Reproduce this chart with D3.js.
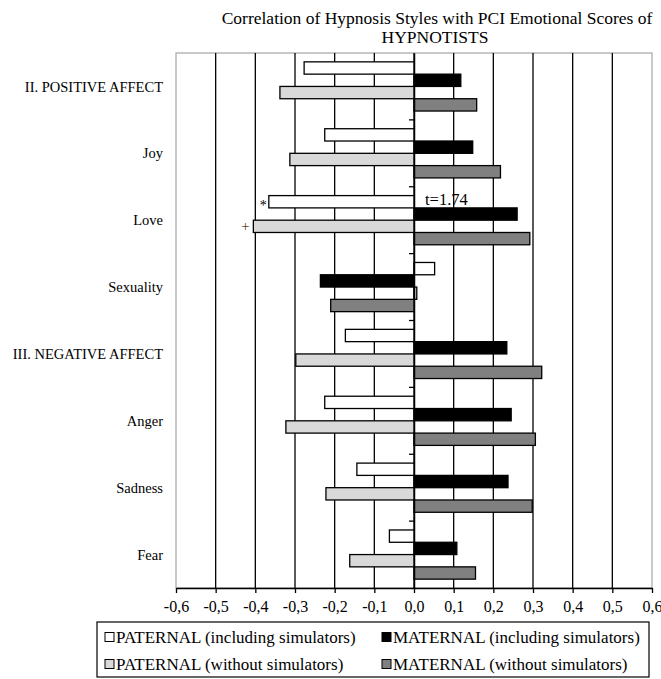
<!DOCTYPE html>
<html>
<head>
<meta charset="utf-8">
<script src="https://cdn.jsdelivr.net/npm/d3@7"></script>
<style>
  body { margin: 0; background: #fff; }
  text { font-family: "Liberation Serif", "Times New Roman", serif; }
</style>
</head>
<body>
<svg id="chart"></svg>
<script>
// categories (top to bottom)
const categories = ['II. POSITIVE AFFECT', 'Joy', 'Love', 'Sexuality',
  'III. NEGATIVE AFFECT', 'Anger', 'Sadness', 'Fear'];

const seriesNames = [
  'PATERNAL (including simulators)',
  'MATERNAL (including simulators)',
  'PATERNAL (without simulators)',
  'MATERNAL (without simulators)'
];

// correlation values
const paternalIncl = [-0.277, -0.225, -0.366, 0.052, -0.173, -0.225, -0.144, -0.062];
const maternalIncl = [0.118, 0.148, 0.260, -0.236, 0.234, 0.245, 0.237, 0.108];
const paternalWithout = [-0.338, -0.313, -0.405, 0.007, -0.298, -0.323, -0.222, -0.162];
const maternalWithout = [0.158, 0.218, 0.292, -0.210, 0.322, 0.306, 0.298, 0.155];

const xTicks = [-0.6, -0.5, -0.4, -0.3, -0.2, -0.1, 0, 0.1, 0.2, 0.3, 0.4, 0.5, 0.6];

const seriesValues = [paternalIncl, maternalIncl, paternalWithout, maternalWithout];
const seriesFill = ['#ffffff', '#000000', '#d9d9d9', '#808080'];

const width = 661;
const height = 679;
const plot = { left: 176, right: 652, top: 53, bottom: 588 };

const svg = d3.select('#chart')
  .attr('width', width)
  .attr('height', height);

// 比例尺
const xScale = d3.scaleLinear()
  .domain([-0.6, 0.6])
  .range([plot.left, plot.right]);

const yScale = d3.scaleBand()
  .domain(categories)
  .range([plot.top, plot.bottom]);

const subScale = d3.scaleBand()
  .domain(seriesNames)
  .range([0, yScale.bandwidth()])
  .paddingOuter(0.72);

// plot border
svg.append('rect')
  .attr('x', plot.left)
  .attr('y', plot.top)
  .attr('width', plot.right - plot.left)
  .attr('height', plot.bottom - plot.top)
  .attr('fill', 'none')
  .attr('stroke', '#a6a6a6')
  .attr('stroke-width', 1.2);

// vertical gridlines
svg.selectAll('.grid')
  .data(xTicks.filter(d => d > -0.6 && d < 0.6))
  .enter()
  .append('line')
  .attr('x1', d => xScale(d))
  .attr('x2', d => xScale(d))
  .attr('y1', plot.top)
  .attr('y2', plot.bottom)
  .attr('stroke', '#000')
  .attr('stroke-width', 1.3);

// bars
const barData = [];
categories.forEach((c, i) => {
  seriesNames.forEach((s, j) => {
    barData.push({ cat: c, series: s, value: seriesValues[j][i], fill: seriesFill[j] });
  });
});

svg.selectAll('.bar')
  .data(barData)
  .enter()
  .append('rect')
  .attr('class', 'bar')
  .attr('x', d => Math.min(xScale(0), xScale(d.value)))
  .attr('y', d => yScale(d.cat) + subScale(d.series))
  .attr('width', d => Math.abs(xScale(d.value) - xScale(0)))
  .attr('height', subScale.bandwidth())
  .attr('fill', d => d.fill)
  .attr('stroke', '#000')
  .attr('stroke-width', 1.3);

// category axis at zero
const yAxis = svg.append('g')
  .attr('transform', `translate(${xScale(0)},0)`)
  .call(d3.axisLeft(yScale).tickSize(0).tickFormat(''));
yAxis.select('.domain').attr('stroke', '#000').attr('stroke-width', 1.5);

svg.selectAll('.cat-tick')
  .data(categories.slice(1))
  .enter()
  .append('line')
  .attr('x1', xScale(0) - 5)
  .attr('x2', xScale(0))
  .attr('y1', d => yScale(d))
  .attr('y2', d => yScale(d))
  .attr('stroke', '#000')
  .attr('stroke-width', 1.3);

svg.selectAll('.cat-label')
  .data(categories)
  .enter()
  .append('text')
  .attr('x', 163)
  .attr('y', d => yScale(d) + yScale.bandwidth() / 2)
  .attr('dy', '0.35em')
  .attr('text-anchor', 'end')
  .attr('font-size', '14.5px')
  .attr('fill', '#000')
  .text(d => d);

// x axis
const xAxis = svg.append('g')
  .attr('transform', `translate(0,${plot.bottom})`)
  .call(d3.axisBottom(xScale)
    .tickValues(xTicks)
    .tickSize(5)
    .tickSizeOuter(0)
    .tickFormat(d => d3.format('.1f')(d).replace('.', ',').replace('−', '-')));
xAxis.select('.domain').attr('stroke', '#000').attr('stroke-width', 1.5);
xAxis.selectAll('line').attr('stroke', '#000').attr('stroke-width', 1.3);
xAxis.selectAll('text')
  .attr('font-family', '"Liberation Serif", "Times New Roman", serif')
  .attr('font-size', '16px')
  .attr('fill', '#000')
  .attr('y', 13);

// annotations around Love
svg.append('text')
  .attr('x', xScale(0) + 11)
  .attr('y', 205)
  .attr('font-size', '16.5px')
  .text('t=1.74');

svg.append('text')
  .attr('x', xScale(paternalIncl[2]) - 2)
  .attr('y', yScale('Love') + subScale(seriesNames[0]) + subScale.bandwidth() / 2 + 8)
  .attr('text-anchor', 'end')
  .attr('font-size', '14px')
  .text('*');

svg.append('text')
  .attr('x', xScale(paternalWithout[2]) - 4)
  .attr('y', yScale('Love') + subScale(seriesNames[2]) + subScale.bandwidth() / 2 + 5)
  .attr('text-anchor', 'end')
  .attr('font-size', '14px')
  .attr('fill', '#5a3a10')
  .text('+');

// title
svg.append('text')
  .attr('x', 437)
  .attr('y', 24)
  .attr('text-anchor', 'middle')
  .attr('font-size', '17.5px')
  .text('Correlation of Hypnosis Styles with PCI Emotional  Scores of');

svg.append('text')
  .attr('x', 435)
  .attr('y', 43)
  .attr('text-anchor', 'middle')
  .attr('font-size', '17.5px')
  .text('HYPNOTISTS');

// legend
const legend = svg.append('g');
legend.append('rect')
  .attr('x', 97)
  .attr('y', 622)
  .attr('width', 552)
  .attr('height', 55)
  .attr('fill', '#fff')
  .attr('stroke', '#000')
  .attr('stroke-width', 1.2);

const legendPos = [[105, 637], [382, 637], [105, 664], [382, 664]];

const legendItems = legend.selectAll('.legend-item')
  .data(seriesNames)
  .enter()
  .append('g')
  .attr('transform', (d, i) => `translate(${legendPos[i][0]},${legendPos[i][1]})`);

legendItems.append('rect')
  .attr('x', 0)
  .attr('y', -4.5)
  .attr('width', 9)
  .attr('height', 9)
  .attr('fill', (d, i) => seriesFill[i])
  .attr('stroke', '#000')
  .attr('stroke-width', 1);

legendItems.append('text')
  .attr('x', 11)
  .attr('dy', '0.35em')
  .attr('font-size', '17px')
  .text(d => d);
</script>
</body>
</html>
